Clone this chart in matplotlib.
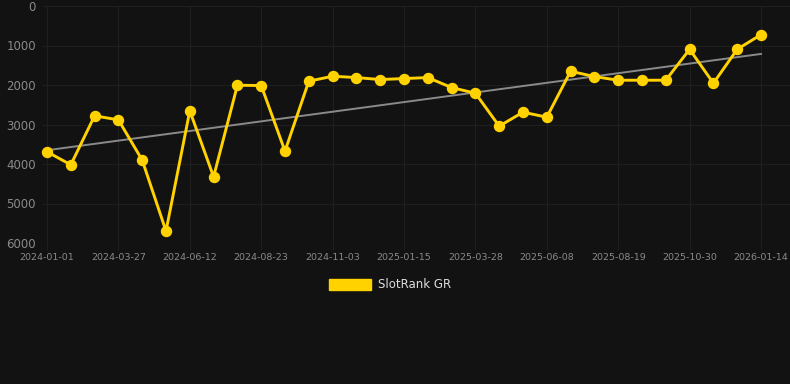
import numpy as np
import matplotlib
matplotlib.use("Agg")
import matplotlib.pyplot as plt
import matplotlib.patches as mpatches

# rank values (lower = better), one point per ~24 days
ranks = [3690, 4020, 2781, 2882, 3902, 5697, 2654, 4323, 2006, 2014, 3674,
         1904, 1778, 1812, 1862, 1837, 1812, 2065, 2208, 3042, 2688, 2815,
         1652, 1787, 1879, 1879, 1879, 1096, 1955, 1096, 725]
tick_labels = ["2024-01-01", "2024-03-27", "2024-06-12", "2024-08-23",
               "2024-11-03", "2025-01-15", "2025-03-28", "2025-06-08",
               "2025-08-19", "2025-10-30", "2026-01-14"]
series_name = "SlotRank GR"

BG = "#121212"
GOLD = "#FFD200"

x = np.arange(len(ranks))
y = np.array(ranks)

fig = plt.figure(figsize=(7.9, 3.84), dpi=100, facecolor=BG)
ax = fig.add_axes([43 / 790, 1 - 243 / 384, (790 - 43) / 790, (243 - 6) / 384])
ax.set_facecolor(BG)

# linear trend over the whole series
slope, icpt = np.polyfit(x, y, 1)
ax.plot(x, slope * x + icpt, color="#8a8a8a", linewidth=1.4, zorder=2)
ax.plot(x, y, color=GOLD, linewidth=2.1, marker="o", markersize=7.2,
        zorder=3, clip_on=False)

ax.set_ylim(6000, 0)
ax.set_yticks([0, 1000, 2000, 3000, 4000, 5000, 6000])
ax.set_xlim(-4 / 23.8, 30 + 29 / 23.8)
ax.set_xticks(x[::3])
ax.set_xticklabels(tick_labels)

ax.grid(True, color="#1f1f1f", linewidth=0.8)
ax.set_axisbelow(True)
for s in ax.spines.values():
    s.set_visible(False)
ax.tick_params(axis="y", length=0, pad=5, labelsize=8.5, labelcolor="#8a8a8a")
ax.tick_params(axis="x", length=5, color="#1f1f1f", pad=2, labelsize=6.8,
               labelcolor="#8a8a8a")

patch = mpatches.Patch(color=GOLD, label=series_name)
leg = fig.legend(handles=[patch], loc="center", bbox_to_anchor=(390 / 790, 1 - 285 / 384),
                 frameon=False, fontsize=8.5, handlelength=3.6, handleheight=1.1,
                 handletextpad=0.6)
for t in leg.get_texts():
    t.set_color("#dddddd")

fig.savefig("out.png", dpi=100, facecolor=BG)
